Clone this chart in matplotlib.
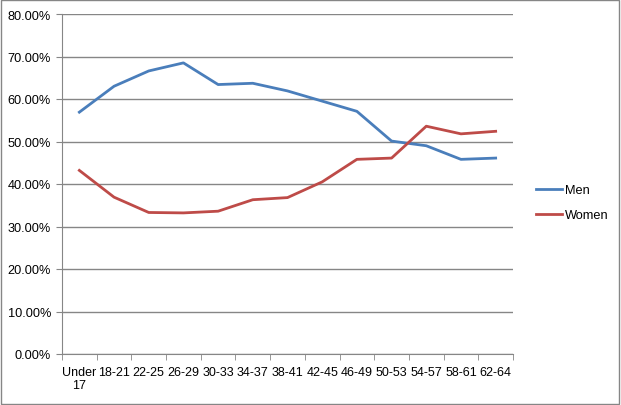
import numpy as np
import matplotlib.pyplot as plt
from matplotlib.ticker import PercentFormatter

# Données
categories = ["Under\n17", "18-21", "22-25", "26-29", "30-33", "34-37", "38-41",
              "42-45", "46-49", "50-53", "54-57", "58-61", "62-64"]
men = [56.9, 63.0, 66.6, 68.5, 63.4, 63.7, 61.9, 59.5, 57.1, 50.1, 49.0, 45.8, 46.1]
women = [43.2, 36.9, 33.3, 33.2, 33.6, 36.3, 36.8, 40.5, 45.8, 46.1, 53.6, 51.8, 52.4]

plt.rcParams['font.family'] = ['Liberation Sans', 'DejaVu Sans']

fig = plt.figure(figsize=(6.21, 4.06), dpi=100)
ax = fig.add_axes([62/621, 1-355/406, 451/621, 340/406])

x = np.arange(len(categories))
ax.plot(x, men, color='#4A7EBB', lw=2.0, label='Men')
ax.plot(x, women, color='#BE4B48', lw=2.0, label='Women')

ax.set_xlim(-0.5, len(categories)-0.5)
ax.set_ylim(0, 80)
ax.set_yticks(np.arange(0, 81, 10))
ax.yaxis.set_major_formatter(PercentFormatter(decimals=2))
ax.set_xticks(x)
ax.set_xticklabels(categories, linespacing=1.1)
ax.set_xticks(np.arange(-0.5, len(categories), 1), minor=True)
ax.tick_params(axis='x', which='major', length=0, pad=9, labelsize=9.0)
ax.tick_params(axis='x', which='minor', length=4, color='#868686')
ax.tick_params(axis='y', length=4, color='#868686', labelsize=9.2, pad=4)

ax.grid(axis='y', color='#868686', lw=1)
ax.set_axisbelow(True)
for s in ['top', 'right']:
    ax.spines[s].set_visible(False)
for s in ['left', 'bottom']:
    ax.spines[s].set_color('#868686')

ax.legend(loc='center left', bbox_to_anchor=(1.04, 0.445), frameon=False,
          fontsize=9.2, handlelength=2.0, handletextpad=0.25, labelspacing=1.05,
          borderaxespad=0)

# cadre extérieur
fig.patches.append(plt.Rectangle((0.002, 0.003), 0.994, 0.994, transform=fig.transFigure,
                                 fill=False, edgecolor='#868686', lw=1))

fig.savefig("out.png", dpi=100)
